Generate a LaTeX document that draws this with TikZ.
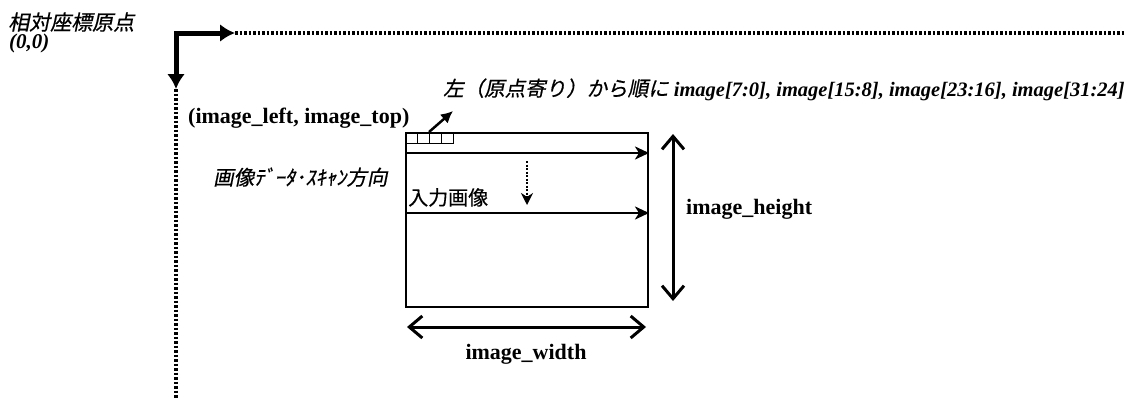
\documentclass[tikz,border=0pt]{standalone}
\usepackage{fontspec}
\setmainfont{Liberation Serif}
\newfontfamily\jpfont[FakeBold=0.4]{Noto Sans CJK JP}
\newfontfamily\jpslant[FakeSlant=0.2,FakeBold=0.6]{Noto Sans CJK JP}
\usetikzlibrary{arrows.meta}

\begin{document}
\begin{tikzpicture}[x=1pt,y=-1pt,
  lbl/.style={inner sep=0pt,anchor=base west,font=\fontsize{22}{26}\selectfont\bfseries},
  jplbl/.style={inner sep=0pt,anchor=base west,font=\fontsize{20.5}{24}\selectfont\jpslant},
  axisline/.style={line width=5pt,line join=miter,{Latex[length=15pt,width=18pt]}-{Latex[length=15pt,width=18pt]}},
  dotline/.style={line width=4pt,dash pattern=on 2.5pt off 2pt},
  scanline/.style={line width=2.5pt,-{Stealth[length=14pt,width=13pt,inset=4pt]}},
  dimline/.style={line width=3pt,{Straight Barb[length=13pt,width=22pt]}-{Straight Barb[length=13pt,width=22pt]}},
  cell/.style={draw,line width=1.3pt,minimum width=12pt,minimum height=11pt,inner sep=0pt,anchor=north west}]
  \useasboundingbox (0,0) rectangle (1142,399);
  % origin and axes
  \coordinate (o) at (176,33);
  \coordinate (xa) at (235,33);
  \coordinate (xe) at (1124,33);
  \coordinate (ya) at (176,89);
  \coordinate (ye) at (176,399);
  \draw[dotline] (xa) -- (xe);
  \draw[dotline] (ya) -- (ye);
  \draw[axisline] (ya) -- (o) -- (xa);
  \node[jplbl,font=\fontsize{21}{24}\selectfont\jpslant,text height=16pt,text depth=1pt] (orig) at (8,30) {相対座標原点};
  \node[inner sep=0pt,anchor=base west,font=\fontsize{21}{24}\selectfont\bfseries\itshape,text height=14pt,text depth=4pt] (origxy) at (9,48) {(0,0)};
  % input image
  \node[draw,line width=2pt,minimum width=242pt,minimum height=174pt,inner sep=0pt,anchor=north west] (img) at (405,132) {};
  \foreach \i in {0,...,3}
    \node[cell] (c\i) at (405+12*\i,132) {};
  \node[lbl] (topleft) at (188,123) {(image\_left, image\_top)};
  \coordinate (bt) at (453,111);
  \draw[line width=2.5pt,-{Latex[length=12pt,width=12pt]}] (c2.north west) -- (bt);
  \node[inner sep=0pt,anchor=base west,font=\fontsize{20.5}{24}\selectfont] (order) at (443,96)
    {{\jpslant 左（原点寄り）から順に} {\bfseries\itshape image[7:0], image[15:8], image[23:16], image[31:24]}};
  % scan direction
  \coordinate (s1) at (405,153);
  \coordinate (e1) at (649,153);
  \coordinate (s2) at (405,213);
  \coordinate (e2) at (649,213);
  \draw[scanline] (s1) -- (e1);
  \draw[scanline] (s2) -- (e2);
  \coordinate (d1) at (527,161);
  \coordinate (d2) at (527,205);
  \draw[line width=2.5pt,dash pattern=on 2pt off 1.5pt,-{Stealth[length=12pt,width=12pt]}] (d1) -- (d2);
  \node[jplbl] (scan) at (213,185) {画像ﾃﾞｰﾀ･ｽｷｬﾝ方向};
  \node[inner sep=0pt,anchor=base west,font=\fontsize{20}{24}\selectfont\jpfont] (input) at (408,205) {入力画像};
  % dimensions
  \coordinate (h1) at (673,134);
  \coordinate (h2) at (673,301);
  \draw[dimline] (h1) -- (h2);
  \node[lbl] (hlbl) at (686,214) {image\_height};
  \coordinate (w1) at (407,327);
  \coordinate (w2) at (646,327);
  \draw[dimline] (w1) -- (w2);
  \node[lbl,anchor=base] (wlbl) at (526,359) {image\_width};
\end{tikzpicture}
\end{document}
